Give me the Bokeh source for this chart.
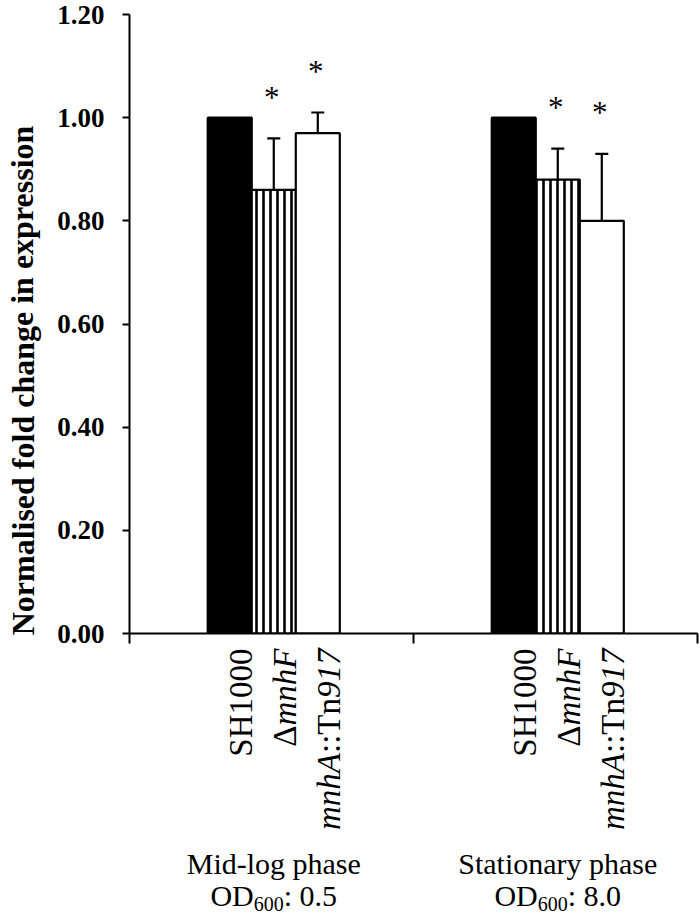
import math
from bokeh.plotting import figure
from bokeh.models import (ColumnDataSource, Range1d, FixedTicker, NumeralTickFormatter,
                          Whisker, TeeHead)
from bokeh.core.properties import value, field
from bokeh.embed import file_html
from bokeh.resources import INLINE

# ---------------- data ----------------
phases = ["Mid-log phase", "Stationary phase"]
od_values = ["0.5", "8.0"]
strains = ["SH1000", "ΔmnhF", "mnhA::Tn917"]
mid_log = [1.00, 0.86, 0.97]
mid_log_err = [0.00, 0.10, 0.04]
stationary = [1.00, 0.88, 0.80]
stationary_err = [0.00, 0.06, 0.13]
significant_mid = [False, True, True]
significant_stat = [False, True, True]
y_ticks = [0.0, 0.2, 0.4, 0.6, 0.8, 1.0, 1.2]
y_title = "Normalised fold change in expression"
# label pieces of each strain name: (text, font style)
strain_parts = [
    [("SH1000", "normal")],
    [("Δ", "normal"), ("mnhF", "italic")],
    [("mnhA", "italic"), ("::Tn", "normal"), ("917", "italic")],
]

# ---------------- layout ----------------
W, H = 700, 920
BL, BR, BT, BB = 129, 3, 14, 287
FRAME_W = W - BL - BR
FRAME_H = H - BT - BB
Y_MAX = 1.2
PX_X = FRAME_W / 2.0
PX_Y = FRAME_H / Y_MAX
BAR_W = 0.155
OFFSETS = [-0.155, 0.0, 0.155]
SHIFT = 0.008
FONT = "Liberation Serif"
FIX = 10.0  # empirical baseline correction (px)

REG = {'S': 0.556, 'H': 0.722, 'Δ': 0.612, ':': 0.278, 'T': 0.611, 'n': 0.5,
       'O': 0.722, 'D': 0.722, ' ': 0.25, '.': 0.25}
ITA = {'m': 0.722, 'n': 0.5, 'h': 0.5, 'F': 0.611, 'A': 0.611}


def tw(s, style, size):
    tab = ITA if style == "italic" else REG
    return sum(tab.get(c, 0.5) for c in s) * size


p = figure(width=W, height=H, output_backend="svg", toolbar_location=None,
           x_range=Range1d(0, 2), y_range=Range1d(0, Y_MAX),
           min_border_left=BL, min_border_right=BR, min_border_top=BT,
           min_border_bottom=BB)
p.outline_line_color = None
p.xgrid.visible = False
p.ygrid.visible = False
p.background_fill_color = "white"

# bars
xs, tops, fills, hatches, errs, sig = [], [], [], [], [], []
for g, (vals, ers, sg) in enumerate([(mid_log, mid_log_err, significant_mid),
                                      (stationary, stationary_err, significant_stat)]):
    for i in range(3):
        xs.append(g + 0.5 + SHIFT + OFFSETS[i])
        tops.append(vals[i])
        errs.append(ers[i])
        sig.append(sg[i])
        fills.append("black" if i == 0 else "white")
        hatches.append("|" if i == 1 else " ")

src = ColumnDataSource(dict(x=xs, top=tops, fill=fills, hatch=hatches))
p.vbar(x="x", top="top", width=BAR_W, bottom=0, source=src, fill_color="fill",
       line_color="black", line_width=2.2, hatch_pattern="hatch",
       hatch_color="black", hatch_scale=7, hatch_weight=2.6)

# error bars (upper only)
ex = [x for x, e in zip(xs, errs) if e > 0]
elo = [t for t, e in zip(tops, errs) if e > 0]
ehi = [t + e for t, e in zip(tops, errs) if e > 0]
esrc = ColumnDataSource(dict(base=ex, lower=elo, upper=ehi))
p.add_layout(Whisker(base="base", lower="lower", upper="upper", source=esrc,
                     dimension="height", line_color="black", line_width=2.2,
                     lower_head=None,
                     upper_head=TeeHead(size=13, line_width=2.2, line_color="black")))

# asterisks
ax = [x - 2.0 / PX_X for x, s in zip(xs, sig) if s]
ay = [t + e + (31.0 + FIX) / PX_Y for t, e, s in zip(tops, errs, sig) if s]
asrc = ColumnDataSource(dict(x=ax, y=ay, t=["*"] * len(ax)))
p.text(x="x", y="y", text="t", source=asrc, text_align="center",
       text_baseline="alphabetic", text_font=value(FONT), text_font_size="31px",
       text_color="black")

# axes
p.yaxis.ticker = FixedTicker(ticks=y_ticks)
p.yaxis.formatter = NumeralTickFormatter(format="0.00")
p.yaxis.major_label_text_font = FONT
p.yaxis.major_label_text_font_style = "bold"
p.yaxis.major_label_text_font_size = "27px"
p.yaxis.major_label_text_color = "black"
p.yaxis.major_label_standoff = 18
p.yaxis.axis_line_width = 2
p.yaxis.axis_line_color = "black"
p.yaxis.major_tick_line_width = 2
p.yaxis.major_tick_line_color = "black"
p.yaxis.major_tick_out = 7
p.yaxis.major_tick_in = 0
p.yaxis.minor_tick_line_color = None

p.xaxis.ticker = FixedTicker(ticks=[0, 1, 2])
p.xaxis.major_label_text_font_size = "0px"
p.xaxis.major_label_overrides = {0: "", 1: "", 2: ""}
p.xaxis.axis_line_width = 2
p.xaxis.axis_line_color = "black"
p.xaxis.major_tick_line_width = 2
p.xaxis.major_tick_line_color = "black"
p.xaxis.major_tick_out = 10
p.xaxis.major_tick_in = 0
p.xaxis.minor_tick_line_color = None

# ---------- texts outside the frame (overlay level, unclipped) ----------
rows = dict(x=[], y=[], text=[], angle=[], align=[], style=[], size=[])


def add_text(x, y, text, angle=0.0, align="left", style="normal", size=30):
    rows["x"].append(x)
    rows["y"].append(y)
    rows["text"].append(text)
    rows["angle"].append(angle)
    rows["align"].append(align)
    rows["style"].append(style)
    rows["size"].append(f"{size}px")


# y title
add_text(-107.0 / PX_X, 253.0 / PX_Y, y_title, math.pi / 2, "center", "bold", 32)

# strain labels (rotated, composed of pieces)
CAT_SIZE = 33
for g in range(2):
    for i, parts in enumerate(strain_parts):
        bx = g + 0.5 + SHIFT + OFFSETS[i] + 11.0 / PX_X
        ypx = 15.0
        for txt, style in reversed(parts):
            add_text(bx, -ypx / PX_Y, txt, math.pi / 2, "right", style, CAT_SIZE)
            ypx += tw(txt, style, CAT_SIZE)

# phase labels
PH_SIZE, SUB_SIZE = 30, 20
for g in range(2):
    cx = g + 0.5 + SHIFT
    add_text(cx, -(240.0 - FIX) / PX_Y, phases[g], 0.0, "center", "normal", PH_SIZE)
    pieces = [("OD", PH_SIZE, 0.0), ("600", SUB_SIZE, 8.0), (": " + od_values[g], PH_SIZE, 0.0)]
    total = sum(tw(t, "normal", s) for t, s, _ in pieces)
    xpx = -total / 2.0
    for t, s, dy in pieces:
        add_text(cx + xpx / PX_X, -(272.0 - FIX + dy) / PX_Y, t, 0.0, "left", "normal", s)
        xpx += tw(t, "normal", s)

tsrc = ColumnDataSource(rows)
tr = p.text(x="x", y="y", text="text", angle="angle", source=tsrc,
            text_align=field("align"), text_baseline="alphabetic",
            text_font=value(FONT), text_font_style=field("style"),
            text_font_size=field("size"), text_color="black")
tr.level = "overlay"

open("out.html", "w").write(file_html(p, INLINE))
